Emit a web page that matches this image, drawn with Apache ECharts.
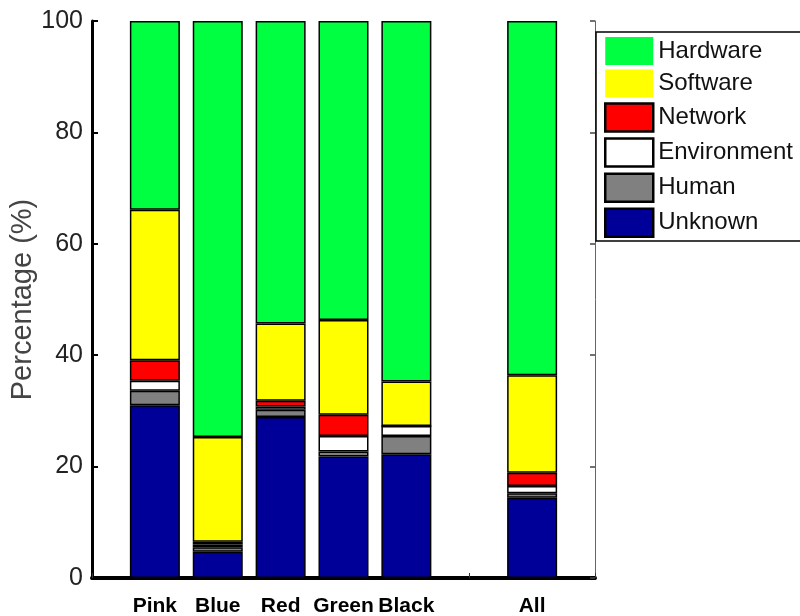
<!DOCTYPE html>
<html>
<head>
<meta charset="utf-8">
<script src="https://cdn.jsdelivr.net/npm/echarts@6/dist/echarts.min.js"></script>
<style>
  html, body { margin: 0; padding: 0; background: #fff; }
  #chart { width: 800px; height: 616px; }
</style>
</head>
<body>
<div id="chart"></div>
<script>
// Failure-cause breakdown per system (percent of failures)
const categories = ['Pink', 'Blue', 'Red', 'Green', 'Black', '', 'All'];
const unknown     = [31.0,  4.7, 28.9, 21.8, 22.2, null, 14.4];
const human       = [ 2.6,  0.8,  1.3,  0.9,  3.3, null,  0.8];
const environment = [ 1.8,  0.5,  0.6,  2.8,  1.8, null,  1.3];
const network     = [ 3.7,  0.5,  1.0,  3.8,  0.0, null,  2.4];
const software    = [27.0, 18.8, 13.9, 17.0,  8.0, null, 17.5];
const hardware    = [33.9, 74.7, 54.3, 53.7, 64.7, null, 63.6];
const yTicks = [0, 20, 40, 60, 80, 100];

const FONT = 'Liberation Sans, Arial, sans-serif';

// One empty slot on each side so bars sit at positions 1..7 of a 0..8 axis
const axisCats = [''].concat(categories, ['']);
const pad = arr => [null].concat(arr, [null]);

const stackDefs = [
  { name: 'Unknown',     data: unknown,     color: '#000099' },
  { name: 'Human',       data: human,       color: '#808080' },
  { name: 'Environment', data: environment, color: '#ffffff' },
  { name: 'Network',     data: network,     color: '#ff0000' },
  { name: 'Software',    data: software,    color: '#ffff00' },
  { name: 'Hardware',    data: hardware,    color: '#00ff40' }
];

const series = stackDefs.map(d => ({
  name: d.name,
  type: 'bar',
  stack: 'total',
  barWidth: 50,
  data: pad(d.data),
  itemStyle: { color: d.color, borderColor: '#000', borderWidth: 1.5 },
  emphasis: { disabled: true }
}));

const legendBorder = { Hardware: 0, Software: 0 };

const option = {
  animation: false,
  backgroundColor: '#fff',
  grid: { left: 92, right: 205, top: 21, bottom: 38, containLabel: false, outerBoundsMode: 'none' },
  legend: {
    orient: 'vertical',
    left: 596,
    top: 32,
    padding: [5, 60, 3, 8],
    itemWidth: 48,
    itemHeight: 28,
    itemGap: 4.6,
    backgroundColor: '#fff',
    borderColor: '#000',
    borderWidth: 1.5,
    borderRadius: 0,
    selectedMode: false,
    textStyle: { fontFamily: FONT, fontSize: 24, lineHeight: 28, color: '#111' },
    data: ['Hardware', 'Software', 'Network', 'Environment', 'Human', 'Unknown'].map(n => ({
      name: n,
      icon: 'rect',
      itemStyle: {
        borderColor: '#000',
        borderWidth: legendBorder[n] === 0 ? 0 : 2.5
      }
    }))
  },
  xAxis: [
    {
      type: 'category',
      data: axisCats,
      boundaryGap: false,
      position: 'bottom',
      axisLine: { lineStyle: { color: '#000', width: 2.5 } },
      axisTick: { show: true, inside: true, length: 5, lineStyle: { color: '#333', width: 1 } },
      axisLabel: {
        interval: 0,
        fontFamily: FONT,
        fontSize: 21,
        fontWeight: 'bold',
        color: '#000',
        margin: 18
      },
      splitLine: { show: false }
    },
    {
      type: 'category',
      data: axisCats,
      boundaryGap: false,
      position: 'top',
      axisLine: { lineStyle: { color: '#000', width: 4 } },
      axisTick: { show: false },
      axisLabel: { show: false },
      splitLine: { show: false }
    }
  ],
  yAxis: [
    {
      type: 'value',
      min: yTicks[0],
      max: yTicks[yTicks.length - 1],
      interval: yTicks[1] - yTicks[0],
      position: 'left',
      name: 'Percentage (%)',
      nameLocation: 'middle',
      nameRotate: 90,
      nameGap: 55,
      nameMoveOverlap: false,
      nameTextStyle: { fontFamily: FONT, fontSize: 29, color: '#444' },
      axisLine: { show: true, lineStyle: { color: '#000', width: 3 } },
      axisTick: { show: true, inside: true, length: 6, lineStyle: { color: '#000', width: 2 } },
      axisLabel: { fontFamily: FONT, fontSize: 25, color: '#222', margin: 9 },
      splitLine: { show: false }
    },
    {
      type: 'value',
      min: yTicks[0],
      max: yTicks[yTicks.length - 1],
      interval: yTicks[1] - yTicks[0],
      position: 'right',
      axisLine: { show: true, lineStyle: { color: '#666', width: 1 } },
      axisTick: { show: true, inside: true, length: 5, lineStyle: { color: '#444', width: 1.5 } },
      axisLabel: { show: false },
      splitLine: { show: false }
    }
  ],
  series: series
};

const chart = echarts.init(document.getElementById('chart'), null, { renderer: 'canvas' });
chart.setOption(option);
</script>
</body>
</html>
